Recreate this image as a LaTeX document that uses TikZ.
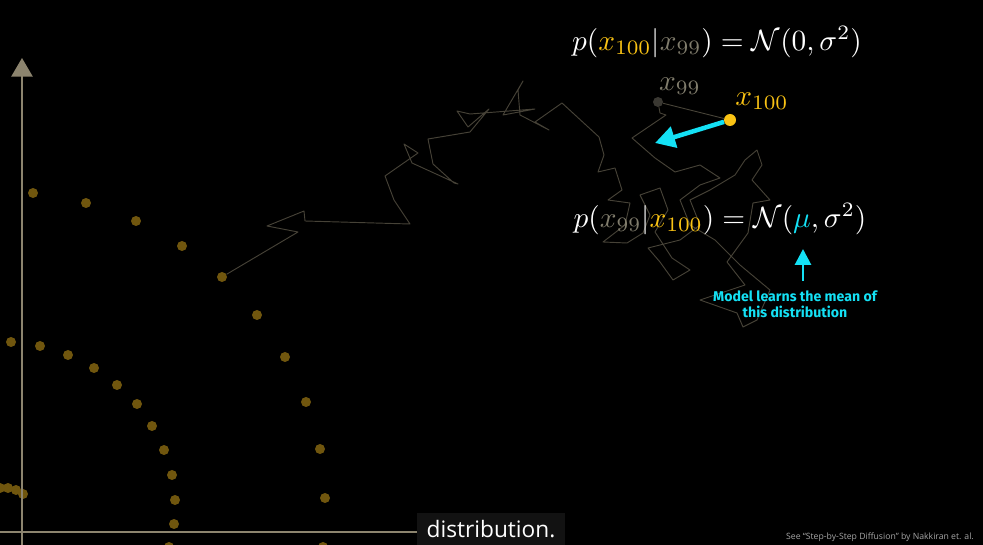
\documentclass[tikz,border=0pt]{standalone}
\usepackage{fontspec}
\setsansfont{Open Sans}
\newfontfamily\notefont{Fira Sans}
\usepackage{amsmath}
\usetikzlibrary{positioning, arrows.meta}

\definecolor{axistan}{RGB}{140,132,110}
\definecolor{dotgold}{RGB}{112,86,14}
\definecolor{walkgrey}{RGB}{70,66,55}
\definecolor{xyellow}{RGB}{250,195,20}
\definecolor{xgrey}{RGB}{128,124,108}
\definecolor{olddot}{RGB}{58,56,50}
\definecolor{meancyan}{RGB}{20,225,245}
\definecolor{captionbg}{RGB}{18,18,18}

\begin{document}
\begin{tikzpicture}[
        % one unit is one pixel of the frame
        x=0.75pt, y=-0.75pt,
        % Define styles for the pieces
        axis_line/.style={draw=axistan, line width=1.3pt},
        axis_arrow/.style={axis_line, -{Triangle[length=14pt, width=16pt]}},
        walk_line/.style={draw=walkgrey, line width=0.7pt, line join=round},
        fade_dot/.style={circle, fill=dotgold, inner sep=0pt, minimum size=7.5pt},
        formula/.style={text=white, inner sep=0pt, scale=2.2},
        cyan_arrow/.style={draw=meancyan, line width=3.4pt, -{Triangle[length=15pt, width=16pt]}},
        up_arrow/.style={draw=meancyan, line width=2.2pt, -{Triangle[length=12pt, width=12pt]}},
        mean_note/.style={text=meancyan, align=center, inner sep=1pt, font=\notefont\bfseries\fontsize{10.6}{12}\selectfont},
        caption_box/.style={fill=captionbg, text=white, minimum width=111pt, minimum height=24pt, inner sep=0pt, font=\sffamily\fontsize{17}{20}\selectfont}
    ]

    % Black frame
    \fill[black] (0,0) rectangle (983,545);
    \useasboundingbox (0,0) rectangle (983,545);

    % Faded samples of the earlier steps
    \foreach \px/\py in {33/193, 86/203, 136/221, 182/246,
                         11/342, 40/346, 68/355, 94/368, 117/385, 137/404, 152/426, 164/450,
                         172/475, 175/500, 174/524, 169/547,
                         257/315, 285/357, 306/402, 320/449, 325/498, 323/547,
                         0/488, 8/488, 16/490, 23/494}
        \node[fade_dot] at (\px,\py) {};
    \node[fade_dot] (walk_start) at (222,277) {};

    % Endpoints of the walk
    \node[circle, fill=olddot, inner sep=0pt, minimum size=7.5pt] (x_ninetynine) at (658,102) {};
    \node[circle, fill=xyellow, inner sep=0pt, minimum size=9pt] (x_hundred) at (730,120) {};

    % The noisy walk
    \draw[walk_line] (walk_start) -- (298,232) -- (267,226) -- (304,211) -- (305,221) -- (410,224)
        -- (394,200) -- (385,176) -- (418,153) -- (404,144) -- (412,163) -- (458,184) -- (454,183)
        -- (433,164) -- (428,139) -- (470,132) -- (489,109) -- (468,127) -- (457,111) -- (470,114)
        -- (535,109) -- (503,115) -- (523,81) -- (518,90) -- (520,115) -- (549,130) -- (535,122)
        -- (562,103) -- (599,137) -- (604,155) -- (598,172) -- (615,168) -- (622,190) -- (608,200)
        -- (630,203) -- (625,225) -- (603,242) -- (627,243) -- (643,233) -- (650,215) -- (640,195)
        -- (660,188) -- (668,210) -- (655,232) -- (672,258) -- (690,270) -- (673,280) -- (660,262)
        -- (648,248) -- (680,240) -- (700,225) -- (690,200) -- (710,190) -- (735,175) -- (745,160)
        -- (757,150) -- (762,165) -- (752,180) -- (770,200) -- (753,203) -- (748,233) -- (727,262)
        -- (745,285) -- (700,300) -- (737,313) -- (743,327) -- (757,320) -- (770,290) -- (740,265)
        -- (715,240) -- (690,225) -- (680,200) -- (700,185) -- (720,178) -- (700,165) -- (675,172)
        -- (655,158) -- (632,138) -- (666,115) -- (660,113) -- (x_ninetynine);
    \draw[walk_line] (x_ninetynine) -- (x_hundred);

    % Axes
    \node[caption_box] (subtitle) at (491,529) {distribution.};
    \coordinate (axis_left) at (0,532);
    \coordinate (axis_foot) at (22,545);
    \coordinate (axis_top) at (22,58);
    \draw[axis_line] (axis_left) -- (subtitle.west |- axis_left);
    \draw[axis_arrow] (axis_foot) -- (axis_top);

    % Labels of the two last points
    \node[formula, text=xgrey] (label_ninetynine) at (680,86) {$x_{99}$};
    \node[formula, text=xyellow] (label_hundred) at (762,101) {$x_{100}$};

    % Forward and reverse steps
    \node[formula] (forward_eq) at (717,42)
        {$p({\color{xyellow}x_{100}}|{\color{xgrey}x_{99}}) = \mathcal{N}(0,\sigma^2)$};
    \node[formula] (reverse_eq) at (720,219)
        {$p({\color{xgrey}x_{99}}|{\color{xyellow}x_{100}}) = \mathcal{N}({\color{meancyan}\mu},\sigma^2)$};

    % Step back towards the mean
    \coordinate (mean_tip) at (655,143);
    \draw[cyan_arrow] (x_hundred) -- (mean_tip);

    % Note under the mean
    \coordinate (mu_point) at (803,249);
    \node[mean_note, below=30pt of mu_point, xshift=-6pt] (mean_caption) {Model learns the mean of\\this distribution};
    \draw[up_arrow, shorten <=6pt] (mean_caption.north -| mu_point) -- (mu_point);

    % Credit
    \node[anchor=south east, inner sep=0pt, text=black!35!white, font=\sffamily\fontsize{6.5}{7}\selectfont]
        (credit) at (974,542) {See “Step-by-Step Diffusion” by Nakkiran et. al.};

\end{tikzpicture}
\end{document}
